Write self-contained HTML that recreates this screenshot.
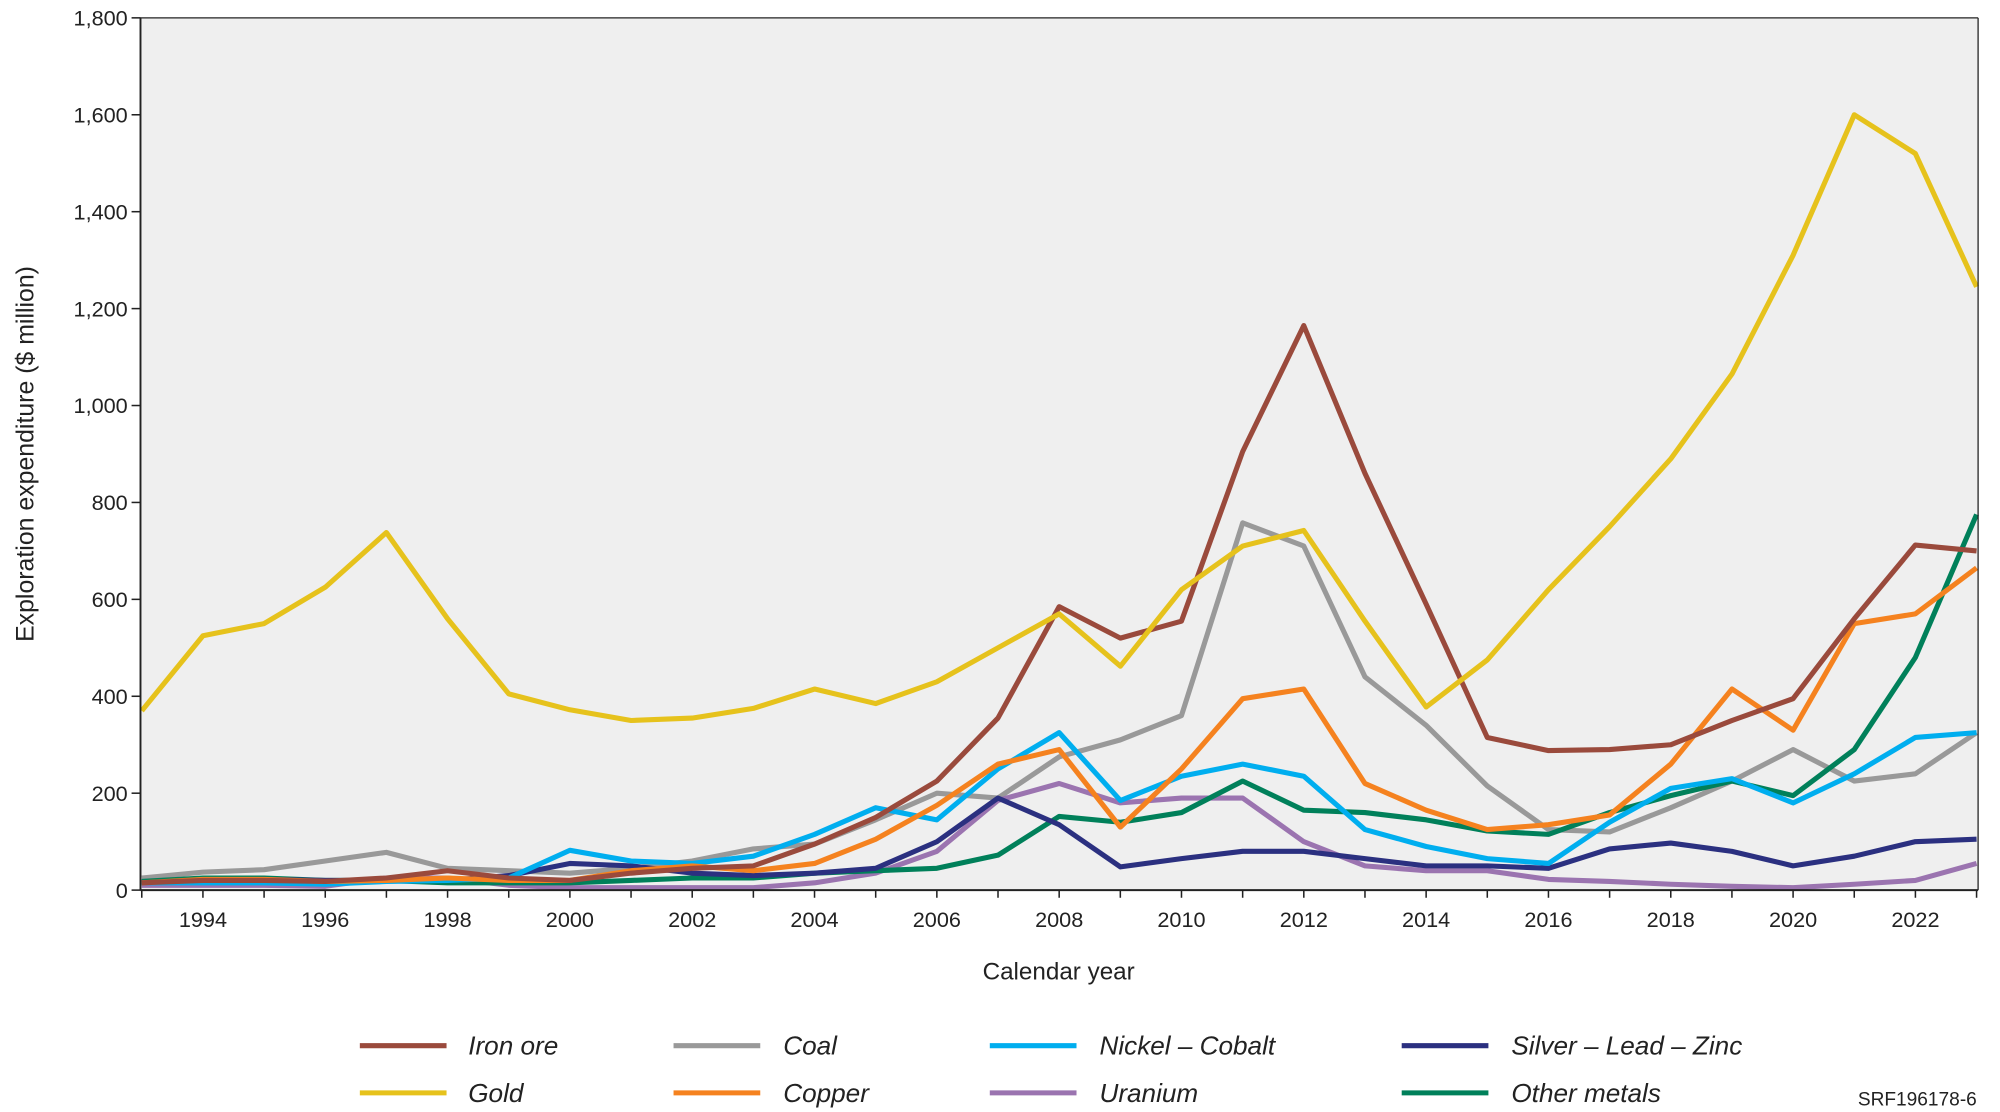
<!DOCTYPE html>
<html><head><meta charset="utf-8">
<style>html,body{margin:0;padding:0;background:#fff;}svg{display:block;font-family:"Liberation Sans",Arial,sans-serif;}</style>
</head><body>
<svg id="s" width="2000" height="1112" viewBox="0 0 1568 872" xmlns="http://www.w3.org/2000/svg">
<rect x="0" y="0" width="1568" height="872" fill="#fff"/>
<rect x="110" y="14" width="1441" height="684" fill="#efefef"/>
<g id="grid"></g>
<g id="series" fill="none" stroke-width="4" stroke-linejoin="round"></g>
<line x1="110" y1="14" x2="110" y2="698" stroke="#222" stroke-width="1.5"/>
<line x1="110" y1="698" x2="1551" y2="698" stroke="#222" stroke-width="1.5"/>
<line x1="1551" y1="14" x2="1551" y2="698" stroke="#222" stroke-width="1"/>
<line x1="110" y1="14" x2="1551" y2="14" stroke="#222" stroke-width="1"/>
<text x="26" y="356" font-size="19.5" text-anchor="middle" transform="rotate(-90 26 356)" fill="#222">Exploration expenditure ($ million)</text>
<text x="830" y="768" font-size="19" text-anchor="middle" fill="#222">Calendar year</text>
<g font-size="20.5" font-style="italic" fill="#222">
<line x1="282" y1="820" x2="350" y2="820" stroke="#9a4a3c" stroke-width="4"/><text x="367" y="827">Iron ore</text>
<line x1="282" y1="857" x2="350" y2="857" stroke="#e6c21c" stroke-width="4"/><text x="367" y="864">Gold</text>
<line x1="528" y1="820" x2="596" y2="820" stroke="#999" stroke-width="4"/><text x="614" y="827">Coal</text>
<line x1="528" y1="857" x2="596" y2="857" stroke="#f5821f" stroke-width="4"/><text x="614" y="864">Copper</text>
<line x1="776" y1="820" x2="844" y2="820" stroke="#00aeef" stroke-width="4"/><text x="862" y="827">Nickel – Cobalt</text>
<line x1="776" y1="857" x2="844" y2="857" stroke="#9b74b0" stroke-width="4"/><text x="862" y="864">Uranium</text>
<line x1="1099" y1="820" x2="1167" y2="820" stroke="#2b3080" stroke-width="4"/><text x="1185" y="827">Silver – Lead – Zinc</text>
<line x1="1099" y1="857" x2="1167" y2="857" stroke="#00805a" stroke-width="4"/><text x="1185" y="864">Other metals</text>
</g>
<text x="1550" y="867" font-size="15" text-anchor="end" fill="#222">SRF196178-6</text>
</svg>
<script>
var NS="http://www.w3.org/2000/svg",s=document.getElementById('s'),g=document.getElementById('grid'),se=document.getElementById('series');
function X(yr){return 111+(yr-1993)*47.96;}function Y(v){return 698-v*0.38;}
function el(t,a,p,txt){var e=document.createElementNS(NS,t);for(var k in a)e.setAttribute(k,a[k]);if(txt)e.textContent=txt;(p||s).appendChild(e);return e;}
for(var v=0;v<=1800;v+=200){var y=Y(v);el('line',{x1:103,y1:y,x2:110,y2:y,stroke:'#222','stroke-width':1.2},g);
el('text',{x:100,y:y+6,'font-size':17,'text-anchor':'end',fill:'#222'},g,v.toLocaleString('en-US'));}
for(var yr=1993;yr<=2023;yr++){var x=X(yr);el('line',{x1:x,y1:698,x2:x,y2:704,stroke:'#222','stroke-width':1.2},g);
if(yr%2==0)el('text',{x:x,y:727,'font-size':17,'text-anchor':'middle',fill:'#222'},g,String(yr));}
var D=[
['#999',[25,37,42,60,78,45,40,35,45,60,85,95,145,200,190,275,310,360,758,710,440,340,215,125,120,170,225,290,225,240,325]],
['#9b74b0',[10,10,10,8,25,25,10,5,5,5,5,15,35,80,185,220,180,190,190,100,50,40,40,22,18,12,8,5,12,20,55]],
['#00805a',[18,25,25,20,20,15,15,15,20,25,25,35,40,45,72,152,140,160,225,165,160,145,122,115,160,195,225,195,290,480,775]],
['#2b3080',[15,20,22,20,20,20,30,55,50,35,30,35,45,100,190,135,48,65,80,80,65,50,50,45,85,97,80,50,70,100,105]],
['#00aeef',[15,15,15,12,18,20,25,82,60,55,70,115,170,145,250,325,185,235,260,235,125,90,65,55,140,210,230,180,240,315,325]],
['#f5821f',[15,22,22,18,20,25,20,20,40,50,40,55,105,175,260,290,130,250,395,415,220,165,125,135,155,260,415,330,550,570,665]],
['#9a4a3c',[15,20,20,18,25,40,25,20,35,45,50,95,150,225,355,585,520,555,905,1165,860,590,315,288,290,300,350,395,560,712,700]],
['#e6c21c',[370,525,550,625,738,560,405,372,350,355,375,415,385,430,500,570,462,620,710,742,555,378,475,620,750,890,1065,1310,1600,1520,1245]]];
D.forEach(function(d){var p=d[1].map(function(v,i){return X(1993+i).toFixed(1)+','+Y(v).toFixed(1)}).join(' ');
el('polyline',{points:p,stroke:d[0]},se);});
</script>
</body></html>
